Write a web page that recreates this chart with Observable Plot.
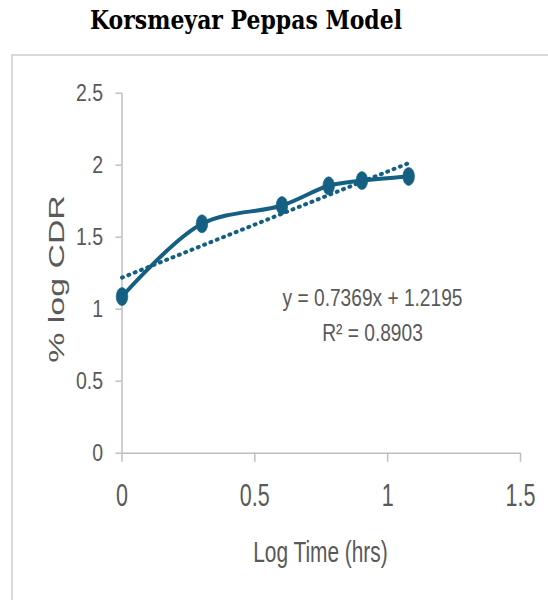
<!DOCTYPE html>
<html><head><meta charset="utf-8">
<script src="https://cdn.jsdelivr.net/npm/d3@7"></script>
<script src="https://cdn.jsdelivr.net/npm/@observablehq/plot@0.6"></script>
<style>
body{margin:0;background:#fff;}
#wrap{position:relative;width:548px;height:600px;overflow:hidden;background:#fff;}
#title{position:absolute;left:90px;top:0px;white-space:nowrap;font:bold 26px "DejaVu Serif",serif;color:#000;line-height:40px;transform-origin:0 0;}
#box{position:absolute;left:11px;top:54px;width:600px;height:600px;border:2px solid #d9d9d9;box-sizing:border-box;}
#chart{position:absolute;left:0;top:0;}
</style></head><body>
<div id="wrap"><div id="box"></div><div id="chart"></div><span id="title">Korsmeyar Peppas Model</span></div>
<script>
// data
const logTime = [0, 0.301, 0.602, 0.778, 0.903, 1.079];
const logCDR = [1.088, 1.593, 1.72, 1.857, 1.893, 1.922];
const slope = 0.7369, intercept = 1.2195, r2 = 0.8903;
const xTicks = [0, 0.5, 1, 1.5];
const yTicks = [0, 0.5, 1, 1.5, 2, 2.5];
const xLabel = "Log Time (hrs)";
const yLabel = "% log CDR";
const eqText = "y = " + slope + "x + " + intercept;
const r2Text = "R² = " + r2;

const points = logTime.map((x, i) => ({x, y: logCDR[i]}));
const trend = [logTime[0], logTime[logTime.length - 1]].map(x => ({x, y: slope * x + intercept}));

const C = "#156082";
const AX = "#bfbfbf";
const TX = "#595959";

const plot = Plot.plot({
  width: 548, height: 600,
  marginLeft: 121.5, marginRight: 28, marginTop: 92.7, marginBottom: 147.3,
  style: {background: "transparent", fontFamily: "'Liberation Sans', Arial, sans-serif", overflow: "visible"},
  x: {domain: [0, 1.5]},
  y: {domain: [0, 2.5]},
  marks: [
    Plot.ruleY([0], {stroke: AX, strokeWidth: 1.5}),
    Plot.ruleX([0], {stroke: AX, strokeWidth: 1.5}),
    Plot.axisX({ticks: xTicks, tickSize: 9, tickPadding: 21, stroke: AX, strokeWidth: 1.5, fill: TX, fontSize: 32, label: null, tickFormat: d => String(d)}),
    Plot.axisY({ticks: yTicks, tickSize: 6, tickPadding: 13, stroke: AX, strokeWidth: 1.5, fill: TX, fontSize: 23.5, label: null, tickFormat: d => String(d)}),
    Plot.line(trend, {x: "x", y: "y", stroke: C, strokeWidth: 4, strokeLinecap: "round", strokeDasharray: "1,5.8"}),
    Plot.line(points, {x: "x", y: "y", stroke: C, strokeWidth: 4, curve: "catmull-rom"}),
    Plot.dot(points, {x: "x", y: "y", r: 5.8, fill: C, stroke: C, strokeWidth: 0.5}),
    Plot.text([eqText], {x: 0.943, y: 1.019, text: d => d, textAnchor: "middle", lineAnchor: "bottom", fontSize: 23.5, fill: TX, className: "sq-eq"}),
    Plot.text([r2Text], {x: 0.943, y: 0.776, text: d => d, textAnchor: "middle", lineAnchor: "bottom", fontSize: 23.5, fill: TX, className: "sq-eq"}),
    Plot.text([xLabel], {x: 0.747, y: -0.756, text: d => d, textAnchor: "middle", lineAnchor: "bottom", fontSize: 29, fill: TX, className: "sq-xl"}),
    Plot.text([yLabel], {x: -0.22, y: 1.21, text: d => d, rotate: -90, textAnchor: "middle", lineAnchor: "bottom", fontSize: 22.3, fill: TX, className: "sq-yl"})
  ]
});
document.getElementById("chart").appendChild(plot);

function squeeze(nodes, sx, sy) {
  nodes.forEach(el => {
    const t = el.getAttribute("transform") || "";
    el.setAttribute("transform", t + ` scale(${sx},${sy})`);
  });
}
squeeze(plot.querySelectorAll('g[aria-label="x-axis tick label"] text'), 0.674, 1);
squeeze(plot.querySelectorAll('g[aria-label="y-axis tick label"] text'), 0.83, 1);
squeeze(plot.querySelectorAll('.sq-eq text, g.sq-eq text'), 0.815, 1);
squeeze(plot.querySelectorAll('.sq-xl text, g.sq-xl text'), 0.72, 1);
squeeze(plot.querySelectorAll('.sq-yl text, g.sq-yl text'), 1.52, 1);

plot.querySelectorAll('g[aria-label="dot"] circle').forEach(el => {
  const cx = el.getAttribute("cx"), cy = el.getAttribute("cy");
  if (cx != null && cy != null) {
    el.setAttribute("transform", `translate(${cx},${cy}) scale(1,1.55) translate(${-cx},${-cy})`);
  } else {
    el.setAttribute("transform", (el.getAttribute("transform") || "") + " scale(1,1.55)");
  }
});

// fit title width to the reference span
const title = document.getElementById("title");
const tw = title.getBoundingClientRect().width;
title.style.transform = `scale(${312 / tw},1)`;
</script>
</body></html>
